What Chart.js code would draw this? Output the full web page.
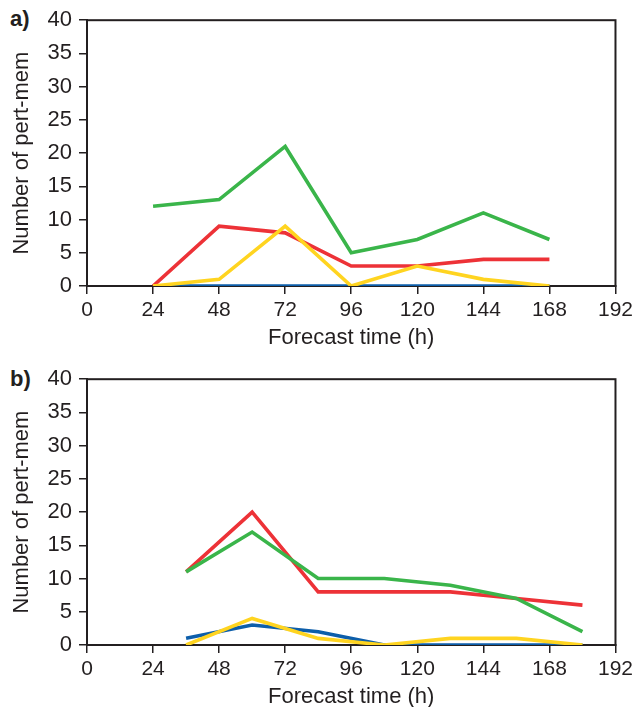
<!DOCTYPE html>
<html>
<head>
<meta charset="utf-8">
<script src="https://cdn.jsdelivr.net/npm/chart.js@4.4.1/dist/chart.umd.min.js"></script>
<style>
  html, body { margin: 0; padding: 0; background: #ffffff; }
  body { width: 637px; height: 707px; position: relative; overflow: hidden; }
  .panel { position: absolute; left: 0; width: 637px; height: 351px; }
  .lab { position: absolute; left: 10px; font: bold 22px "Liberation Sans", Arial, sans-serif; line-height: 22px; color: #231f20; }
</style>
</head>
<body>
<div class="lab" style="top:8.4px">a)</div>
<div class="lab" style="top:368.4px">b)</div>
<div class="panel" style="top:0px"><canvas id="ca"></canvas></div>
<div class="panel" style="top:359px"><canvas id="cb"></canvas></div>
<script>
// ---- data ----
const hoursA = [24, 48, 72, 96, 120, 144, 168];
const greenA = [12, 13, 21, 5, 7, 11, 7];
const redA = [0, 9, 8, 3, 3, 4, 4];
const yellowA = [0, 1, 9, 0, 3, 1, 0];
const blueA = [0, 0, 0, 0, 0, 0, 0];

const hoursB = [36, 60, 84, 108, 132, 156, 180];
const greenB = [11, 17, 10, 10, 9, 7, 2];
const redB = [11, 20, 8, 8, 8, 7, 6];
const yellowB = [0, 4, 1, 0, 1, 1, 0];
const blueB = [1, 3, 2, 0, 0, 0, 0];

const xTicks = [0, 24, 48, 72, 96, 120, 144, 168, 192];
const yTicks = [0, 5, 10, 15, 20, 25, 30, 35, 40];

const xTitle = 'Forecast time (h)';
const yTitle = 'Number of pert-mem';

// ---- styles ----
const INK = '#231f20';
const COLORS = { green: '#3ab54a', red: '#ed3237', yellow: '#ffd420', blue: '#0d5eaa' };
const FONT = '"Liberation Sans", Arial, sans-serif';

const boxPlugin = {
  id: 'box',
  beforeDatasetsDraw(chart) {
    const a = chart.chartArea, ctx = chart.ctx;
    ctx.save();
    ctx.strokeStyle = INK;
    ctx.lineWidth = 2;
    ctx.strokeRect(a.left, a.top, a.right - a.left, a.bottom - a.top);
    ctx.restore();
  }
};

function pts(xs, ys) { return xs.map((x, i) => ({ x: x, y: ys[i] })); }

function ds(label, xs, ys, color) {
  return {
    label: label, data: pts(xs, ys), borderColor: color, backgroundColor: color,
    borderWidth: 3.6, pointRadius: 0, tension: 0, borderJoinStyle: 'miter', fill: false
  };
}

function makeChart(id, xs, g, r, y, b) {
  return new Chart(document.getElementById(id), {
    type: 'line',
    data: {
      datasets: [
        ds('yellow', xs, y, COLORS.yellow),
        ds('green', xs, g, COLORS.green),
        ds('red', xs, r, COLORS.red),
        ds('blue', xs, b, COLORS.blue)
      ]
    },
    options: {
      responsive: true,
      maintainAspectRatio: false,
      animation: false,
      devicePixelRatio: 1,
      layout: { padding: { left: 0, top: 17, right: 21, bottom: 0 } },
      plugins: { legend: { display: false }, tooltip: { enabled: false }, title: { display: false } },
      scales: {
        x: {
          type: 'linear', min: 0, max: 192,
          afterBuildTicks(s) { s.ticks = xTicks.map(v => ({ value: v })); },
          afterFit(s) { s.height = 65; },
          ticks: { color: INK, font: { family: FONT, size: 21 }, padding: 4, maxRotation: 0, autoSkip: false },
          grid: { drawOnChartArea: false, drawTicks: true, tickLength: 8, color: INK, lineWidth: 1.5 },
          border: { display: true, color: INK, width: 2 },
          title: { display: true, text: xTitle, color: INK, font: { family: FONT, size: 22 }, padding: { top: 0, bottom: 0 } }
        },
        y: {
          type: 'linear', min: 0, max: 40,
          afterBuildTicks(s) { s.ticks = yTicks.map(v => ({ value: v })); },
          afterFit(s) { s.width = 87; },
          ticks: { color: INK, font: { family: FONT, size: 22 }, padding: 7, autoSkip: false },
          grid: { drawOnChartArea: false, drawTicks: true, tickLength: 8, color: INK, lineWidth: 1.5 },
          border: { display: true, color: INK, width: 2 },
          title: { display: true, text: yTitle, color: INK, font: { family: FONT, size: 22 }, padding: { top: 9, bottom: 9 } }
        }
      }
    },
    plugins: [boxPlugin]
  });
}

makeChart('ca', hoursA, greenA, redA, yellowA, blueA);
makeChart('cb', hoursB, greenB, redB, yellowB, blueB);
</script>
</body>
</html>
